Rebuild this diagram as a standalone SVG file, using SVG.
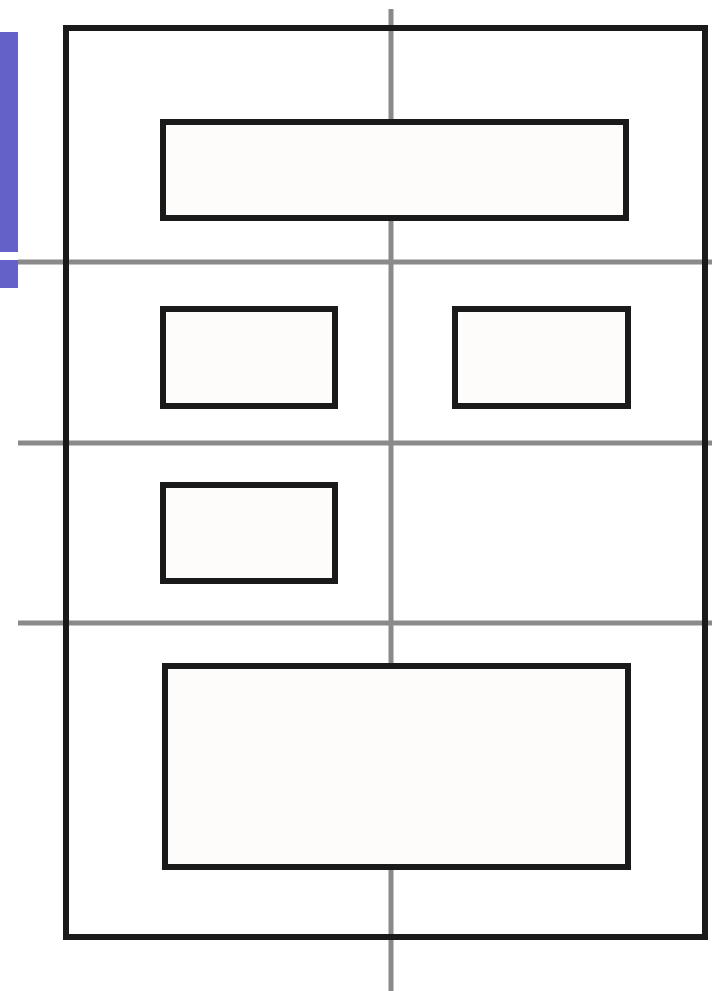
<svg xmlns="http://www.w3.org/2000/svg" width="712" height="991" viewBox="0 0 712 991">
<style>
.grid{stroke:#8a8a8a;stroke-width:5;fill:none}
.box{stroke:#1a1a1a;stroke-width:6;fill:#fdfcfb}
.frame{stroke:#1a1a1a;stroke-width:6;fill:none}
.tab{fill:#6461c8}
</style>
<rect width="712" height="991" fill="#ffffff"/>
<g id="tabs">
<rect class="tab" x="0" y="32" width="18" height="220"/>
<rect class="tab" x="0" y="260" width="18" height="28"/>
</g>
<g id="connectors">
<line class="grid" x1="391" y1="9" x2="391" y2="991"/>
<line class="grid" x1="18" y1="262" x2="712" y2="262"/>
<line class="grid" x1="18" y1="443" x2="712" y2="443"/>
<line class="grid" x1="18" y1="623" x2="712" y2="623"/>
</g>
<g id="frame"><rect class="frame" x="66" y="28" width="639" height="909"/></g>
<g id="top"><rect class="box" x="163" y="122" width="463" height="96"/></g>
<g id="midLeft"><rect class="box" x="163" y="309" width="172" height="97"/></g>
<g id="midRight"><rect class="box" x="455" y="309" width="173" height="97"/></g>
<g id="row3"><rect class="box" x="163" y="485" width="172" height="96"/></g>
<g id="bottom"><rect class="box" x="165" y="666" width="463" height="201"/></g>
</svg>
